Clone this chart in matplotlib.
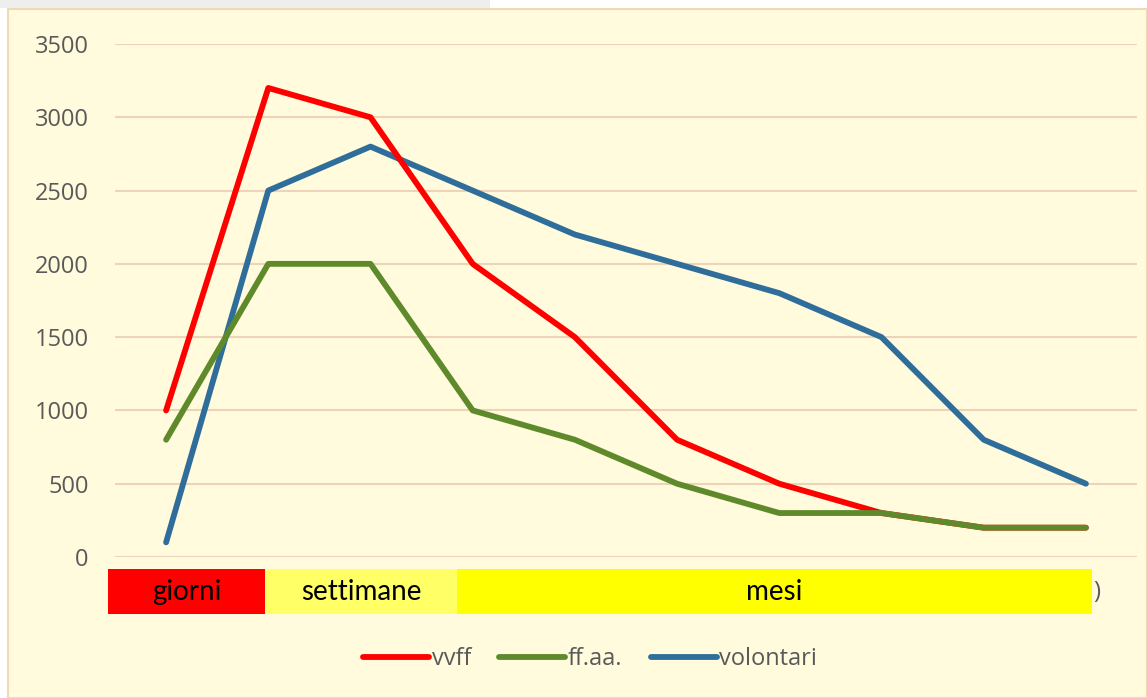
import matplotlib.pyplot as plt
from matplotlib.patches import Rectangle

# Data
categories = list(range(10))
vvff = [1000, 3200, 3000, 2000, 1500, 800, 500, 300, 200, 200]
ffaa = [800, 2000, 2000, 1000, 800, 500, 300, 300, 200, 200]
volontari = [100, 2500, 2800, 2500, 2200, 2000, 1800, 1500, 800, 500]
y_ticks = [0, 500, 1000, 1500, 2000, 2500, 3000, 3500]

W, H = 1147, 698
fig = plt.figure(figsize=(W / 100, H / 100), dpi=100, facecolor='white')

# chart background and thin gray strip on top-left
fig.patches.append(Rectangle((8 / W, 0), 1 - 8 / W, 1 - 9 / H, transform=fig.transFigure,
                             facecolor='#FFFBDC', edgecolor='#F0D9B5', linewidth=1.5, zorder=-2))
fig.patches.append(Rectangle((0, 1 - 8 / H), 490 / W, 8 / H, transform=fig.transFigure,
                             facecolor='#EEEEEE', edgecolor='none', zorder=-2))

ax = fig.add_axes([115 / W, (H - 557) / H, (1137 - 115) / W, (557 - 44) / H])
ax.set_facecolor('none')

lw = 4.2
ax.plot(categories, volontari, color='#2F6E9B', linewidth=lw, label='volontari',
        solid_capstyle='round', zorder=2)
ax.plot(categories, vvff, color='#FF0000', linewidth=lw, label='vvff',
        solid_capstyle='round', zorder=3)
ax.plot(categories, ffaa, color='#5F8A2B', linewidth=lw, label='ff.aa.',
        solid_capstyle='round', zorder=4)

ax.set_xlim(-0.5, 9.5)
ax.set_ylim(0, 3500)
ax.set_yticks(y_ticks)
ax.set_xticks([])
ax.tick_params(axis='y', length=0, pad=19, labelsize=17, labelcolor='#595959')
for lbl in ax.get_yticklabels():
    lbl.set_family('Open Sans')
ax.grid(axis='y', color='#EFD3B8', linewidth=1.5)
ax.set_axisbelow(True)
for s in ax.spines.values():
    s.set_visible(False)

# period bands under the axis
bands = [(108, 265, '#FF0000', 'giorni'),
         (265, 457, '#FFFF66', 'settimane'),
         (457, 1092, '#FFFF00', 'mesi')]
for x0, x1, col, txt in bands:
    fig.patches.append(Rectangle((x0 / W, (H - 614) / H), (x1 - x0) / W, 45 / H,
                                 transform=fig.transFigure, facecolor=col,
                                 edgecolor='none', zorder=3))
    fig.text((x0 + x1) / 2 / W, (H - 592) / H, txt, ha='center', va='center',
             fontsize=20, family='Lato', color='black', zorder=4)
fig.text(1093 / W, (H - 592) / H, ')', ha='left', va='center', fontsize=17,
         family='Open Sans', color='#595959', zorder=2)

handles, labels = ax.get_legend_handles_labels()
order = [1, 2, 0]
leg = fig.legend([handles[i] for i in order], [labels[i] for i in order],
                 loc='center', bbox_to_anchor=(590 / W, (H - 659) / H), ncol=3,
                 frameon=False, handlelength=2.8, handletextpad=0.1, columnspacing=1.2,
                 prop={'family': 'Open Sans', 'size': 17})
for t in leg.get_texts():
    t.set_color('#595959')

fig.savefig('out.png', dpi=100, facecolor='white')
